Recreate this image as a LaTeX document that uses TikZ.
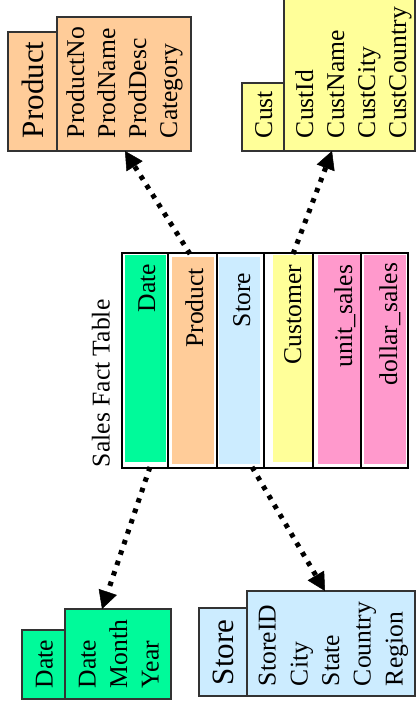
\documentclass[tikz,border=0pt]{standalone}
\usepackage{fontspec}
\setmainfont{Liberation Serif}
\usetikzlibrary{arrows.meta,fit}
\definecolor{dimgreen}{RGB}{0,250,154}
\definecolor{dimpeach}{RGB}{255,204,153}
\definecolor{dimblue}{RGB}{204,236,255}
\definecolor{dimyellow}{RGB}{255,255,153}
\definecolor{dimpink}{RGB}{255,153,204}
\begin{document}
\begin{tikzpicture}[x=1pt, y=-1pt,
  dimbox/.style={draw=black!80, line width=1.2pt, inner sep=0pt, outer sep=0pt},
  colbox/.style={draw=black, line width=1.6pt, inner sep=0pt, outer sep=0pt},
  colfill/.style={fill=#1, draw=none, inner sep=0pt, outer sep=0pt},
  lbl/.style={rotate=90, anchor=base west, inner sep=0pt, outer sep=0pt, font=\fontsize{25.6}{30}\selectfont},
  ttl/.style={lbl, font=\fontsize{31}{36}\selectfont},
  collbl/.style={rotate=90, anchor=base east, inner sep=0pt, outer sep=0pt, font=\fontsize{25.6}{30}\selectfont},
  fk/.style={draw=black, line width=5pt, dash pattern=on 4.5pt off 6.5pt,
    -{Triangle[length=18pt,width=19pt,line width=0.5pt]}}]
\path[use as bounding box] (0,0) rectangle (416,710);
\clip (0,0) rectangle (416,710);

% ---------- Product dimension ----------
\node[dimbox, fill=dimpeach, fit={(8,32) (57,151)}] (prodTitleBox) {};
\node[dimbox, fill=dimpeach, fit={(57,17) (191,151)}] (prodAttrBox) {};
\node[ttl] (prodTitle) at (43,138) {Product};
\node[lbl] (prodA1) at (84,138) {ProductNo};
\node[lbl] (prodA2) at (115,138) {ProdName};
\node[lbl] (prodA3) at (146,138) {ProdDesc};
\node[lbl] (prodA4) at (177,138) {Category};

% ---------- Customer dimension ----------
\node[dimbox, fill=dimyellow, fit={(242,83) (284,151)}] (custTitleBox) {};
\node[dimbox, fill=dimyellow, fit={(284,-5) (415,151)}] (custAttrBox) {};
\node[lbl] (custTitle) at (272,138) {Cust};
\node[lbl] (custA1) at (313,138) {CustId};
\node[lbl] (custA2) at (344,138) {CustName};
\node[lbl] (custA3) at (375,138) {CustCity};
\node[lbl] (custA4) at (406,138) {CustCountry};

% ---------- Date dimension ----------
\node[dimbox, fill=dimgreen, fit={(22,630) (65,699)}] (dateTitleBox) {};
\node[dimbox, fill=dimgreen, fit={(65,609) (171,699)}] (dateAttrBox) {};
\node[lbl] (dateTitle) at (52.5,688) {Date};
\node[lbl] (dateA1) at (95.5,688) {Date};
\node[lbl] (dateA2) at (127,688) {Month};
\node[lbl] (dateA3) at (158.5,688) {Year};

% ---------- Store dimension ----------
\node[dimbox, fill=dimblue, fit={(199,608) (247,696)}] (storeTitleBox) {};
\node[dimbox, fill=dimblue, fit={(247,591) (415,696)}] (storeAttrBox) {};
\node[ttl] (storeTitle) at (233.5,685) {Store};
\node[lbl] (storeA1) at (275.5,686) {StoreID};
\node[lbl] (storeA2) at (307.5,686) {City};
\node[lbl] (storeA3) at (339,686) {State};
\node[lbl] (storeA4) at (370.5,686) {Country};
\node[lbl] (storeA5) at (402.5,686) {Region};

% ---------- Fact table ----------
\node[lbl] (factTitle) at (109.5,467) {Sales Fact Table};
\node[colfill=dimgreen, fit={(125,255) (166,462)}] (fillDate) {};
\node[colfill=dimpeach, fit={(172,257) (214,464)}] (fillProduct) {};
\node[colfill=dimblue, fit={(219,257) (260,464)}] (fillStore) {};
\node[colfill=dimyellow, fit={(273,255) (312,462)}] (fillCustomer) {};
\node[colfill=dimpink, fit={(318,255) (360,464)}] (fillUnit) {};
\node[colfill=dimpink, fit={(364,255) (406,464)}] (fillDollar) {};
\node[colbox, fit={(122,253) (168,468)}] (colDate) {};
\node[colbox, fit={(168,253) (217,468)}] (colProduct) {};
\node[colbox, fit={(217,253) (264,468)}] (colStore) {};
\node[colbox, fit={(264,253) (313,468)}] (colCustomer) {};
\node[colbox, fit={(313,253) (361,468)}] (colUnit) {};
\node[colbox, fit={(361,253) (408,468)}] (colDollar) {};
\node[colbox, line width=2pt, fit={(122,253) (408,468)}] (factTable) {};
\node[collbl] (lblDate) at (155,264) {Date};
\node[collbl] (lblProduct) at (203,268) {Product};
\node[collbl] (lblStore) at (250,273) {Store};
\node[collbl] (lblCustomer) at (301,265) {Customer};
\node[collbl] (lblUnit) at (352,265) {unit\_sales};
\node[collbl] (lblDollar) at (397,263) {dollar\_sales};

% ---------- Foreign-key connectors ----------
\coordinate (pS) at (190,254);
\coordinate (pE) at (125,151);
\coordinate (cS) at (293,254);
\coordinate (cE) at (332,151);
\coordinate (dS) at (150,467);
\coordinate (dE) at (102,609);
\coordinate (sS) at (252,467);
\coordinate (sE) at (325,591);
\draw[fk] (pS) -- (pE);
\draw[fk] (cS) -- (cE);
\draw[fk] (dS) -- (dE);
\draw[fk] (sS) -- (sE);
\end{tikzpicture}
\end{document}
